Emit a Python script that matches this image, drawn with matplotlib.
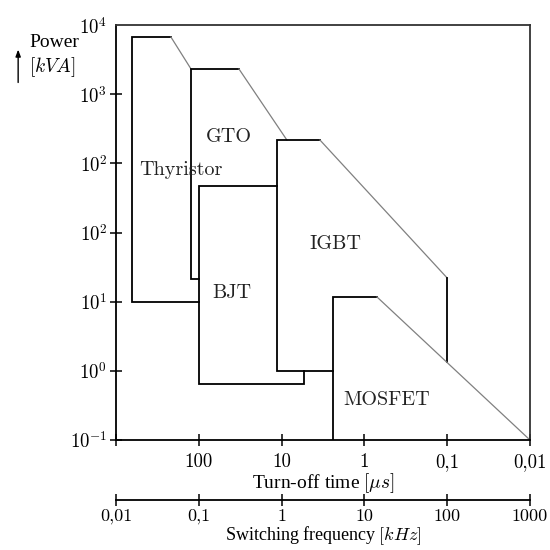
import matplotlib
matplotlib.use("Agg")
import matplotlib.pyplot as plt
import matplotlib.ticker as mticker

plt.rcParams['mathtext.fontset'] = 'cm'
plt.rcParams['font.family'] = 'Liberation Serif'

# switching frequency [kHz] on x, power on y (log scale, values in axis units)
freq_ticks = [0.01, 0.1, 1, 10, 100, 1000]
toff_labels = ['', '100', '10', '1', '0,1', '0,01']
freq_labels = ['0,01', '0,1', '1', '10', '100', '1000']
power_ticks = [0.1, 1, 10, 100, 1000, 1e4, 1e5]
power_labels = [r'$10^{-1}$', r'$10^{0}$', r'$10^{1}$', r'$10^{2}$',
                r'$10^{2}$', r'$10^{3}$', r'$10^{4}$']

# device regions: black outline segments and grey slope segments
thyristor_x = [0.1, 0.0156, 0.0156, 0.0461]
thyristor_y = [10, 10, 67000, 67000]
thyristor_slope_x = [0.0461, 0.0806]
thyristor_slope_y = [67000, 23100]

gto_x = [0.1, 0.0806, 0.0806, 0.306]
gto_y = [21.3, 21.3, 23100, 23100]
gto_slope_x = [0.306, 1.16]
gto_slope_y = [23100, 2170]

bjt_x = [0.87, 0.1, 0.1, 1.86, 1.86]
bjt_y = [470, 470, 0.646, 0.646, 1.0]

igbt_x = [4.18, 0.87, 0.87, 2.91]
igbt_y = [1.0, 1.0, 2170, 2170]
igbt_slope_x = [2.91, 100]
igbt_slope_y = [2170, 22]
igbt_edge_x = [100, 100]
igbt_edge_y = [22, 1.34]

mosfet_x = [4.18, 4.18, 14.2]
mosfet_y = [0.1, 11.7, 11.7]
mosfet_slope_x = [14.2, 1000]
mosfet_slope_y = [11.7, 0.1]

names = ['Thyristor', 'GTO', 'BJT', 'IGBT', 'MOSFET']
name_x = [0.061, 0.232, 0.252, 4.42, 18.7]
name_y = [800, 2400, 13.3, 68, 0.378]

fig = plt.figure(figsize=(5.5, 5.5), dpi=100)
ax = fig.add_axes([0.2109, 0.2, 0.7527, 0.7545])
ax.set_xscale('log')
ax.set_yscale('log')
ax.set_xlim(0.01, 1000)
ax.set_ylim(0.1, 1e5)

black = dict(color='black', lw=1.3, solid_joinstyle='miter')
grey = dict(color='#808080', lw=0.9)
ax.plot(thyristor_x, thyristor_y, **black)
ax.plot(thyristor_slope_x, thyristor_slope_y, **grey)
ax.plot(gto_x, gto_y, **black)
ax.plot(gto_slope_x, gto_slope_y, **grey)
ax.plot(bjt_x, bjt_y, **black)
ax.plot(igbt_x, igbt_y, **black)
ax.plot(igbt_slope_x, igbt_slope_y, **grey)
ax.plot(igbt_edge_x, igbt_edge_y, **black)
ax.plot(mosfet_x, mosfet_y, **black)
ax.plot(mosfet_slope_x, mosfet_slope_y, **grey)

for n, x, y in zip(names, name_x, name_y):
    ax.text(x, y, n, family='cmr10', fontsize=14.5, color='#222222',
            ha='center', va='center', zorder=5)

# frame
for side in ['left', 'bottom']:
    ax.spines[side].set_color('black')
    ax.spines[side].set_linewidth(1.3)
for side in ['top', 'right']:
    ax.spines[side].set_color('#333333')
    ax.spines[side].set_linewidth(1.3)

ax.xaxis.set_major_locator(mticker.FixedLocator(freq_ticks))
ax.xaxis.set_minor_locator(mticker.NullLocator())
ax.set_xticklabels(toff_labels, family='cmr10', fontsize=13.5)
ax.yaxis.set_major_locator(mticker.FixedLocator(power_ticks))
ax.yaxis.set_minor_locator(mticker.NullLocator())
ax.set_yticklabels(power_labels, fontsize=13.5)
ax.tick_params(axis='both', direction='inout', length=9, width=1.1, color='black')
ax.tick_params(axis='x', pad=5)
ax.tick_params(axis='y', pad=2)
# no tick mark at the top corner
ax.yaxis.get_major_ticks()[-1].tick1line.set_visible(False)

ax.set_xlabel(r'Turn-off time $[\mu s]$', fontsize=14, labelpad=0)

# second scale: switching frequency
ax2 = fig.add_axes([0.2109, 0.0909, 0.7527, 0.0001])
ax2.set_xscale('log')
ax2.set_xlim(0.01, 1000)
ax2.patch.set_visible(False)
for side in ['left', 'top', 'right']:
    ax2.spines[side].set_visible(False)
ax2.spines['bottom'].set_linewidth(1.3)
ax2.set_yticks([])
ax2.xaxis.set_major_locator(mticker.FixedLocator(freq_ticks))
ax2.xaxis.set_minor_locator(mticker.NullLocator())
ax2.set_xticklabels(freq_labels, family='cmr10', fontsize=13)
ax2.tick_params(axis='x', direction='inout', length=9, width=1.1, pad=2)
ax2.set_xlabel(r'Switching frequency $[kHz]$', fontsize=13, labelpad=0)

# power axis title with arrow
fig.text(0.053, 0.923, 'Power', fontsize=14, ha='left', va='center')
fig.text(0.053, 0.878, r'$[kVA]$', fontsize=14, ha='left', va='center')
fig.add_artist(matplotlib.patches.FancyArrowPatch(
    (0.033, 0.845), (0.033, 0.915), transform=fig.transFigure,
    arrowstyle='-|>,head_length=4,head_width=1.5', lw=1.0, color='black'))

fig.savefig('out.png', dpi=100)
